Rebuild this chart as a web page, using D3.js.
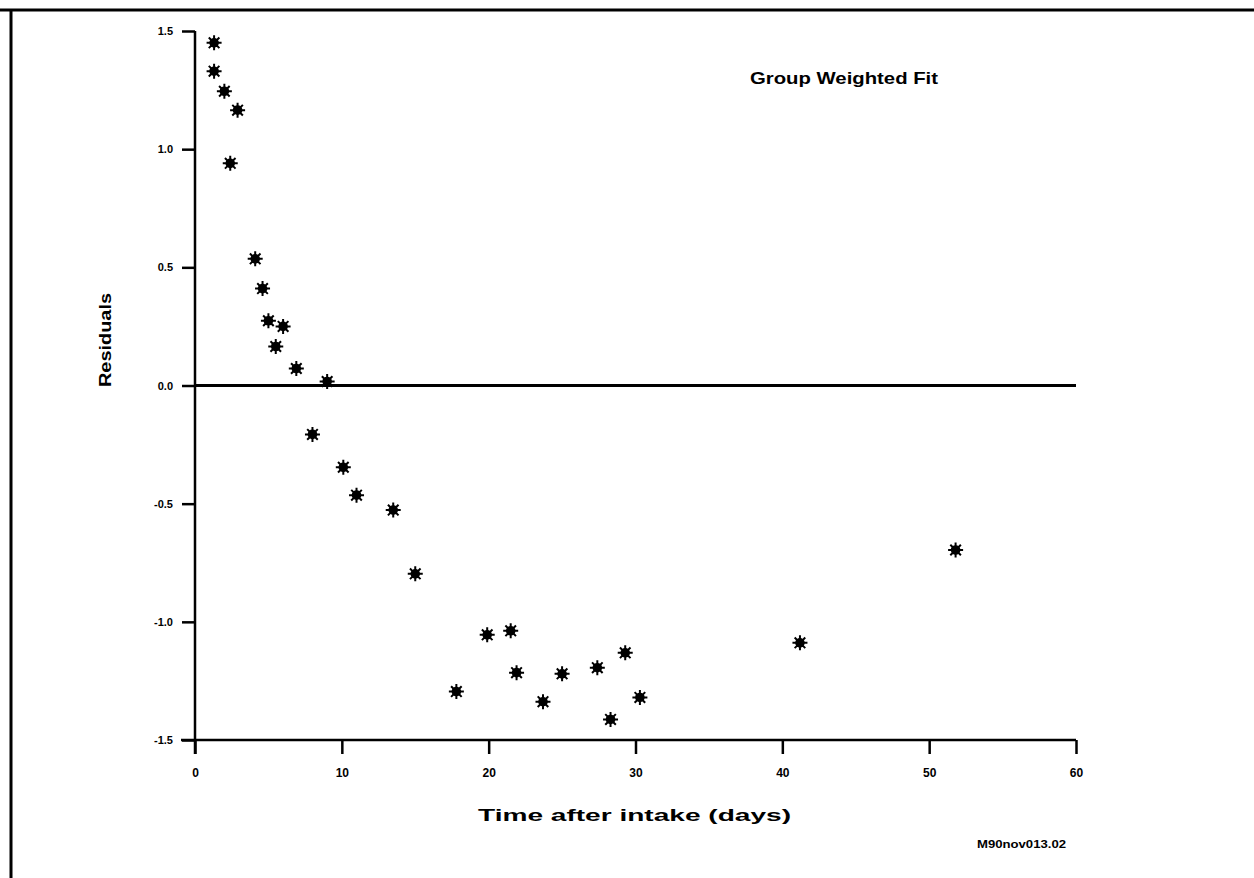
<!DOCTYPE html>
<html>
<head>
<meta charset="utf-8">
<script src="https://cdn.jsdelivr.net/npm/d3@7"></script>
<style>
  html, body { margin: 0; background: #fff; overflow: hidden; }
  svg { display: block; }
  text { font-family: "Liberation Sans", Arial, sans-serif; font-weight: bold; fill: #000; }
</style>
</head>
<body>
<div id="chart"></div>
<script>
var days = [1.3, 1.3, 2.0, 2.9, 2.4, 4.1, 4.6, 5.0, 6.0, 5.5, 6.9, 9.0, 8.0, 10.1, 11.0, 13.5, 15.0,
  17.8, 19.9, 21.5, 21.9, 23.7, 25.0, 27.4, 29.3, 28.3, 30.3, 41.2, 51.8]
var residuals = [1.45, 1.33, 1.245, 1.165, 0.94, 0.536, 0.41, 0.274, 0.25, 0.165, 0.072, 0.017, -0.207,
  -0.346, -0.464, -0.527, -0.797, -1.295, -1.055, -1.038, -1.215, -1.338, -1.22, -1.194, -1.131,
  -1.413, -1.32, -1.089, -0.696]
var xTicks = [0, 10, 20, 30, 40, 50, 60]
var yTicks = [1.5, 1.0, 0.5, 0.0, -0.5, -1.0, -1.5]

var width = 1254
var height = 878

var svg = d3.select('#chart').append('svg')
  .attr('width', width)
  .attr('height', height)

// page frame (top and left edges only, like the scan)
svg.append('line').attr('x1', 0).attr('x2', width).attr('y1', 10).attr('y2', 10)
  .attr('stroke', '#000').attr('stroke-width', 3)
svg.append('line').attr('x1', 11).attr('x2', 11).attr('y1', 9).attr('y2', height)
  .attr('stroke', '#000').attr('stroke-width', 3)

var x = d3.scaleLinear().domain([0, 60]).range([195, 1076])
var y = d3.scaleLinear().domain([-1.5, 1.5]).range([740, 31])

// y axis (hyphen minus, as in the scan)
svg.append('g')
  .attr('transform', 'translate(' + x(0) + ',0)')
  .call(d3.axisLeft(y).tickValues(yTicks)
    .tickFormat(function (d) { return d.toFixed(1) })
    .tickSize(13).tickPadding(9))
  .call(function (g) {
    g.select('.domain').attr('d', 'M0,' + y(1.5) + 'V' + (y(-1.5) + 14)).attr('stroke-width', 2.5)
    g.selectAll('.tick line').attr('stroke-width', 2.5)
    g.selectAll('.tick text').style('font-size', '11px')
  })

// x axis
svg.append('g')
  .attr('transform', 'translate(0,' + y(-1.5) + ')')
  .call(d3.axisBottom(x).tickValues(xTicks).tickSize(14).tickPadding(14))
  .call(function (g) {
    g.select('.domain').attr('d', 'M' + (x(0) - 14) + ',0H' + x(60)).attr('stroke-width', 2.5)
    g.selectAll('.tick line').attr('stroke-width', 2.5)
    g.selectAll('.tick text').style('font-size', '12px')
  })

// zero line
svg.append('line')
  .attr('x1', x(0)).attr('x2', x(60))
  .attr('y1', y(0)).attr('y2', y(0))
  .attr('stroke', '#000').attr('stroke-width', 3)

// asterisk markers
var spokes = d3.range(8).map(function (i) { return i * Math.PI / 4 })
var marker = svg.append('g').selectAll('g')
  .data(days.map(function (d, i) { return [d, residuals[i]] }))
  .enter().append('g')
  .attr('transform', function (d) { return 'translate(' + x(d[0]) + ',' + y(d[1]) + ')' })
marker.append('circle').attr('r', 4.8).attr('fill', '#000')
marker.append('path')
  .attr('d', spokes.map(function (a) {
    return 'M0,0L' + (7.5 * Math.cos(a)).toFixed(2) + ',' + (7.5 * Math.sin(a)).toFixed(2)
  }).join(''))
  .attr('stroke', '#000').attr('stroke-width', 2)

// titles
svg.append('text')
  .attr('transform', 'translate(111,340) rotate(-90)')
  .attr('text-anchor', 'middle')
  .attr('textLength', 94).attr('lengthAdjust', 'spacingAndGlyphs')
  .style('font-size', '16px')
  .text('Residuals')

svg.append('text')
  .attr('x', 478).attr('y', 821)
  .attr('textLength', 313).attr('lengthAdjust', 'spacingAndGlyphs')
  .style('font-size', '17px')
  .text('Time after intake (days)')

svg.append('text')
  .attr('x', 750).attr('y', 84)
  .attr('textLength', 188).attr('lengthAdjust', 'spacingAndGlyphs')
  .style('font-size', '17px')
  .text('Group Weighted Fit')

svg.append('text')
  .attr('x', 977).attr('y', 848)
  .attr('textLength', 89).attr('lengthAdjust', 'spacingAndGlyphs')
  .style('font-size', '11px')
  .text('M90nov013.02')
</script>
</body>
</html>
